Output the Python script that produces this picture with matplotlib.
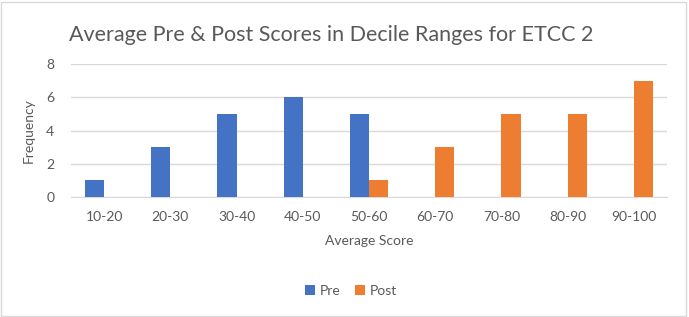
import numpy as np
import matplotlib.pyplot as plt

# data
categories = ["10-20", "20-30", "30-40", "40-50", "50-60", "60-70", "70-80", "80-90", "90-100"]
pre = [1, 3, 5, 6, 5, 0, 0, 0, 0]
post = [0, 0, 0, 0, 1, 3, 5, 5, 7]

blue = "#4472C4"
orange = "#ED7D31"
grey = "#595959"

plt.rcParams['font.family'] = ['Lato', 'DejaVu Sans']

fig = plt.figure(figsize=(6.89, 3.17), dpi=100)
ax = fig.add_axes([71 / 689, 1 - 197 / 317, (667 - 71) / 689, (197 - 64) / 317])

x = np.arange(len(categories))
w = 0.29
ax.bar(x - w / 2, pre, w, color=blue, label="Pre", zorder=3)
ax.bar(x + w / 2, post, w, color=orange, label="Post", zorder=3)

ax.set_xlim(-0.5, len(categories) - 0.5)
ax.set_ylim(0, 8)
ax.set_yticks([0, 2, 4, 6, 8])
ax.set_xticks(x)
ax.set_xticklabels(categories)
ax.tick_params(axis='both', length=0, labelsize=10, colors=grey)
ax.tick_params(axis='x', pad=10)
ax.tick_params(axis='y', pad=12)
ax.grid(axis='y', color="#D9D9D9", linewidth=1, zorder=0)
for s in ax.spines.values():
    s.set_visible(False)
ax.spines['bottom'].set_visible(True)
ax.spines['bottom'].set_color("#D9D9D9")

ax.set_ylabel("Frequency", fontsize=10, color=grey, labelpad=8)
ax.set_xlabel("Average Score", fontsize=10, color=grey, labelpad=9)

fig.text(0.481, 1 - 35 / 317, "Average Pre & Post Scores in Decile Ranges for ETCC 2",
         ha='center', va='center', fontsize=15.5, color=grey)

ax.legend(loc='center', bbox_to_anchor=(0.47, -0.705), ncol=2, frameon=False,
          fontsize=10, labelcolor=grey, handlelength=0.7, handleheight=0.7,
          columnspacing=1.0, handletextpad=0.4)

# light frame round the chart
fig.patches.append(plt.Rectangle((0.002, 0.003), 0.993, 0.99, transform=fig.transFigure,
                                 fill=False, edgecolor="#D9D9D9", linewidth=1))

fig.savefig("out.png", dpi=100)
